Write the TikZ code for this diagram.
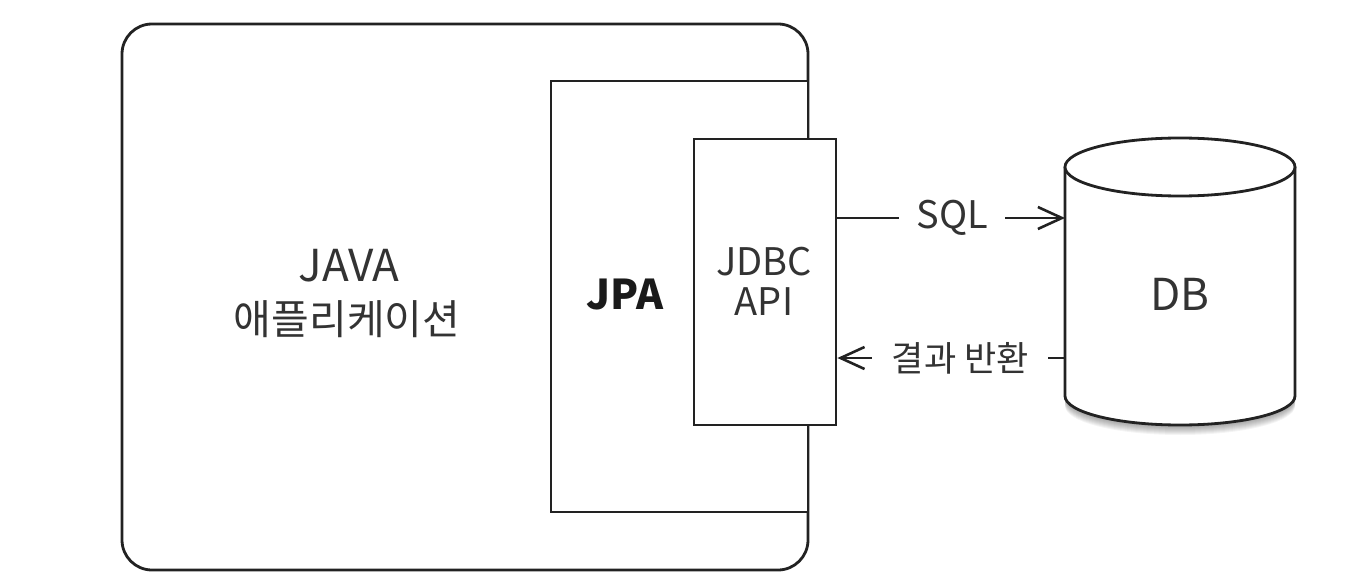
\documentclass[tikz,border=0pt]{standalone}
\usepackage{fontspec}
\setmainfont{Noto Sans CJK KR}
\usetikzlibrary{arrows.meta}
\definecolor{ln}{HTML}{222222}
\definecolor{tx}{HTML}{333333}
\definecolor{jp}{HTML}{1a1a1a}
\tikzset{
  box/.style={draw=ln, line width=2.8pt, fill=white, inner sep=0pt},
  lbl/.style={text=tx, align=center, inner sep=0pt},
  conn/.style={draw=ln, line width=2.6pt, -{Straight Barb[length=24pt,width=22pt,line width=2.6pt]}},
  gaplbl/.style={fill=white, text=tx, inner sep=0pt, minimum height=34pt, minimum width=0pt}
}
\begin{document}
\begin{tikzpicture}[x=1pt,y=-1pt]
\useasboundingbox (0,0) rectangle (1370,580);
% application
\node[box, rounded corners=30pt, minimum width=686pt, minimum height=546pt] (app) at (465,297) {};
\node[lbl, font=\fontsize{44}{50}\selectfont] (apptxt1) at (349,266) {JAVA};
\node[lbl, font=\fontsize{41}{50}\selectfont] (apptxt2) at (347,319) {애플리케이션};
% JPA
\node[box, minimum width=257pt, minimum height=431pt] (jpa) at (679.5,296.5) {};
\node[lbl, text=jp, font=\fontsize{41}{50}\selectfont\bfseries] (jpatxt) at (625,295) {JPA};
% JDBC
\node[box, minimum width=142pt, minimum height=286pt] (jdbc) at (765,282) {};
\node[lbl, font=\fontsize{38}{40}\selectfont] (jdbctxt) at (764,281) {JDBC\\API};
% DB cylinder
\foreach \i in {1,...,10}{
  \fill[black, opacity=0.045] (1065,167) -- (1065,{396+\i}) arc[start angle=180, end angle=0, x radius=115, y radius=29] -- (1295,167) -- cycle;
}
\filldraw[draw=ln, fill=white, line width=2.8pt] (1065,167) -- (1065,396) arc[start angle=180, end angle=0, x radius=115, y radius=29] -- (1295,167);
\filldraw[draw=ln, fill=white, line width=2.8pt] (1180,167) ellipse[x radius=115, y radius=29];
\coordinate (dbsql) at (1065,218);
\coordinate (dbret) at (1065,358);
\node[lbl, font=\fontsize{44}{50}\selectfont] (db) at (1180,294) {DB};
% connectors
\draw[conn] (jdbc.east |- dbsql) -- node[gaplbl, pos=0.505, minimum width=106pt, font=\fontsize{38}{40}\selectfont]{SQL} (dbsql);
\draw[conn] (dbret) -- node[gaplbl, pos=0.46, minimum width=176pt, font=\fontsize{35}{40}\selectfont]{결과 반환} (jdbc.east |- dbret);
\end{tikzpicture}
\end{document}
